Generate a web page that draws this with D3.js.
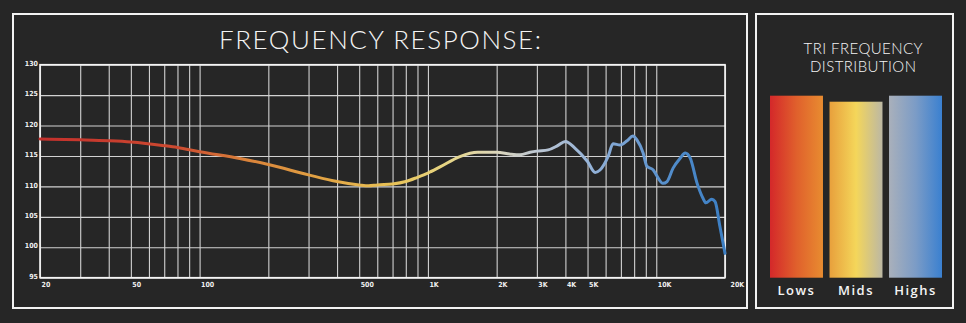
<!DOCTYPE html>
<html>
<head>
<meta charset="utf-8">
<script src="https://cdn.jsdelivr.net/npm/d3@7"></script>
<style>
  html, body { margin: 0; padding: 0; background: #262626; }
  svg { display: block; }
</style>
</head>
<body>
<svg id="chart" width="966" height="323"></svg>
<script>
// Frequency response measurement (Hz -> dB SPL)
const freqs = [20, 30, 40, 50, 70, 80, 100, 150, 200, 300, 400, 500, 550, 600, 700, 800, 900, 1000,
  1130, 1380, 1650, 2000, 2300, 2530, 2800, 3000, 3360, 3700, 4000, 4400, 5000, 5400, 5670, 6150,
  6470, 6940, 7450, 7900, 8240, 8760, 9100, 9700, 10000, 10700, 11150, 11850, 12700, 13400, 14100,
  15100, 16000, 16500, 17500, 18100, 19000, 20000];
const spl = [117.8, 117.65, 117.5, 117.3, 116.7, 116.4, 115.7, 114.6, 113.6, 111.9, 110.8, 110.25, 110.1, 110.25, 110.4, 110.8, 111.5, 112.2,
  113.2, 114.9, 115.6, 115.6, 115.3, 115.2, 115.6, 115.8, 116.0, 116.7, 117.4, 116.3, 114.1, 112.3, 112.7, 114.9,
  117.0, 116.8, 117.5, 118.3, 117.6, 115.5, 113.3, 112.7, 111.9, 110.5, 110.8, 113.0, 114.6, 115.5, 114.6,
  110.5, 108.1, 107.3, 107.9, 107.5, 103.4, 99.0];

// Grid and tick definitions
const gridFreqs = [20, 30, 40, 50, 60, 70, 80, 90, 100, 200, 300, 400, 500, 600, 700, 800, 900,
  1000, 2000, 3000, 4000, 5000, 6000, 7000, 8000, 9000, 10000, 20000];
const xLabelFreqs = [20, 50, 100, 500, 1000, 2000, 3000, 4000, 5000, 10000, 20000];
const xLabelText = ["20", "50", "100", "500", "1K", "2K", "3K", "4K", "5K", "10K", "20K"];
const yTicks = [95, 100, 105, 110, 115, 120, 125, 130];

// Tri-frequency distribution
const bandNames = ["Lows", "Mids", "Highs"];
const bandLevels = [100, 96.7, 100];

// Curve colour along frequency
const gradFreqs = [20, 80, 160, 350, 700, 1200, 2000, 3000, 5000, 8000, 12000, 20000];
const gradColors = ["#c4302c", "#cc4a30", "#d9823a", "#e2a444", "#e8c256", "#e6d584", "#dcd6bc",
  "#bcc6d2", "#97b4d8", "#6f9dd2", "#4f8bca", "#3c7fc4"];

// Bar gradients (left to right)
const bandColors = [
  ["#d4282a", "#e0602c", "#e88c30"],
  ["#e8a03c", "#f4d65a", "#bcb8a4"],
  ["#a9b0bb", "#7c9cc6", "#3a80d0"]
];

const svg = d3.select("#chart");
const defs = svg.append("defs");

// Panels
svg.append("rect").attr("x", 13).attr("y", 14).attr("width", 734).attr("height", 294)
  .attr("fill", "none").attr("stroke", "#f2f2f2").attr("stroke-width", 2);
svg.append("rect").attr("x", 756).attr("y", 14).attr("width", 197).attr("height", 294)
  .attr("fill", "none").attr("stroke", "#f2f2f2").attr("stroke-width", 2);

// Main title
svg.append("text").attr("x", 380).attr("y", 49).attr("text-anchor", "middle")
  .attr("font-family", "Lato, 'Open Sans', sans-serif").attr("font-weight", 300)
  .attr("font-size", 26).attr("fill", "#f4f4f4")
  .attr("textLength", 322).attr("lengthAdjust", "spacing")
  .text("FREQUENCY RESPONSE:");

// Scales
const plot = { left: 40, right: 725, top: 64.7, bottom: 277.7 };
const x = d3.scaleLog().domain([20, 20000]).range([plot.left, plot.right]);
const y = d3.scaleLinear().domain([95, 130]).range([plot.bottom, plot.top]);

const g = svg.append("g");

// Vertical grid
const xAxis = d3.axisBottom(x).tickValues(gridFreqs)
  .tickSize(-(plot.bottom - plot.top)).tickSizeOuter(0)
  .tickFormat(d => { const i = xLabelFreqs.indexOf(d); return i >= 0 ? xLabelText[i] : ""; });
const gx = g.append("g").attr("transform", `translate(0,${plot.bottom})`).call(xAxis);
gx.select(".domain").remove();
gx.selectAll(".tick line").attr("stroke", "#d2d2d2").attr("stroke-width", 1.1);
gx.selectAll(".tick text")
  .attr("text-anchor", "start").attr("x", d => d === 20000 ? 5 : 1).attr("y", 4).attr("dy", "0.71em")
  .attr("fill", "#f0f0f0").attr("font-family", "'DejaVu Sans Condensed', 'DejaVu Sans', sans-serif")
  .attr("font-stretch", "condensed").attr("font-weight", "bold").attr("font-size", 7);

// Horizontal grid
const yAxis = d3.axisLeft(y).tickValues(yTicks)
  .tickSize(-(plot.right - plot.left)).tickSizeOuter(0).tickFormat(d3.format("d"));
const gy = g.append("g").attr("transform", `translate(${plot.left},0)`).call(yAxis);
gy.select(".domain").remove();
gy.selectAll(".tick line").attr("stroke", "#d2d2d2").attr("stroke-width", 1.1);
gy.selectAll(".tick text")
  .attr("x", -2).attr("dy", "0.1em")
  .attr("fill", "#f0f0f0").attr("font-family", "'DejaVu Sans Condensed', 'DejaVu Sans', sans-serif")
  .attr("font-stretch", "condensed").attr("font-weight", "bold").attr("font-size", 7);

// Plot frame
g.append("rect").attr("x", plot.left).attr("y", plot.top)
  .attr("width", plot.right - plot.left).attr("height", plot.bottom - plot.top)
  .attr("fill", "none").attr("stroke", "#f4f4f4").attr("stroke-width", 1.6);

// Curve gradient in user space along the x axis
const curveGrad = defs.append("linearGradient").attr("id", "curveGrad")
  .attr("gradientUnits", "userSpaceOnUse")
  .attr("x1", x(20)).attr("x2", x(20000)).attr("y1", 0).attr("y2", 0);
curveGrad.selectAll("stop").data(gradFreqs).join("stop")
  .attr("offset", d => (x(d) - x(20)) / (x(20000) - x(20)))
  .attr("stop-color", (d, i) => gradColors[i]);

const line = d3.line().x(d => x(d[0])).y(d => y(d[1])).curve(d3.curveMonotoneX);
g.append("path").datum(freqs.map((f, i) => [f, spl[i]]))
  .attr("d", line).attr("fill", "none")
  .attr("stroke", "url(#curveGrad)").attr("stroke-width", 3)
  .attr("stroke-linejoin", "round").attr("stroke-linecap", "round");

// Right panel title, two lines
const rightTitle = [["TRI FREQUENCY", 54, 119], ["DISTRIBUTION", 72, 106]];
svg.append("g").selectAll("text").data(rightTitle).join("text")
  .attr("x", 863).attr("y", d => d[1]).attr("text-anchor", "middle")
  .attr("font-family", "Lato, 'Open Sans', sans-serif").attr("font-weight", 300)
  .attr("font-size", 15).attr("fill", "#f4f4f4")
  .attr("textLength", d => d[2]).attr("lengthAdjust", "spacing")
  .text(d => d[0]);

// Distribution bars
const xb = d3.scaleBand().domain(bandNames).range([770, 942]).paddingInner(0.11).paddingOuter(0);
const yb = d3.scaleLinear().domain([0, 100]).range([277.7, 95.7]);

bandNames.forEach((name, i) => {
  const gr = defs.append("linearGradient").attr("id", "band" + i)
    .attr("x1", 0).attr("x2", 1).attr("y1", 0).attr("y2", 0);
  const cs = bandColors[i];
  gr.selectAll("stop").data(cs).join("stop")
    .attr("offset", (d, j) => j / (cs.length - 1)).attr("stop-color", d => d);
});

svg.append("g").selectAll("rect").data(bandNames).join("rect")
  .attr("x", d => xb(d)).attr("width", xb.bandwidth())
  .attr("y", (d, i) => yb(bandLevels[i]))
  .attr("height", (d, i) => yb(0) - yb(bandLevels[i]))
  .attr("fill", (d, i) => `url(#band${i})`);

svg.append("g").selectAll("text").data(bandNames).join("text")
  .attr("x", d => xb(d) + xb.bandwidth() / 2).attr("y", 295)
  .attr("text-anchor", "middle")
  .attr("font-family", "'Open Sans', Lato, sans-serif").attr("font-weight", 600)
  .attr("font-size", 13).attr("letter-spacing", 1.5).attr("fill", "#f4f4f4")
  .text(d => d);
</script>
</body>
</html>
